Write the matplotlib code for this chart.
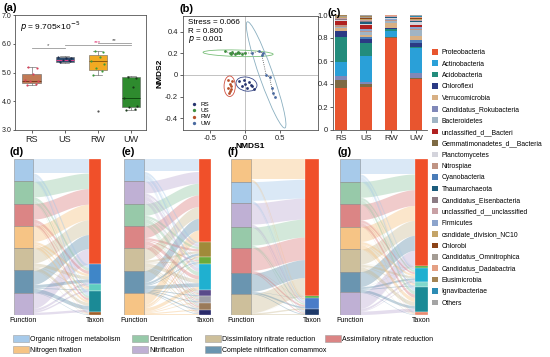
import matplotlib
matplotlib.use("Agg")
import matplotlib.pyplot as plt
from matplotlib.patches import Ellipse, Patch
import numpy as np

plt.rcParams["font.family"] = ["Liberation Sans", "DejaVu Sans"]
plt.rcParams["axes.unicode_minus"] = False

W, H = 550, 357


def px(x0, y0, x1, y1):
    """pixel box (top-left origin) -> figure rect"""
    return [x0 / W, 1 - y1 / H, (x1 - x0) / W, (y1 - y0) / H]


# ── (a) boxplot data ─────────────────────────────────────────────────────────
groups = ["RS", "US", "RW", "UW"]
box_q1 = [4.62, 5.35, 5.10, 3.80]
box_med = [4.72, 5.45, 5.40, 4.10]
box_q3 = [4.95, 5.55, 5.60, 4.85]
box_lo = [4.55, 5.33, 4.92, 3.70]
box_hi = [5.20, 5.57, 5.75, 4.87]
box_out = [[], [], [3.65], []]
pts_RS = [4.55, 4.60, 4.70, 4.72, 4.75, 4.95, 5.15, 5.20]
pts_US = [5.38, 5.42, 5.45, 5.50, 5.55, 5.52, 5.40]
pts_RW = [4.92, 5.05, 5.15, 5.30, 5.40, 5.55, 5.70, 5.75]
pts_UW = [3.70, 3.72, 3.80, 3.85, 4.10, 4.50, 4.80, 4.85]
sig_pairs = [(1, 2), (2, 4), (3, 4)]
sig_y = [5.85, 5.95, 6.03]
sig_txt = ["*", "***", "**"]

# ── (b) NMDS data ────────────────────────────────────────────────────────────
rs_x = [-0.08, -0.05, 0.00, 0.03, 0.06, 0.10, 0.12, -0.02, 0.08]
rs_y = [-0.06, -0.10, -0.08, -0.12, -0.07, -0.10, -0.13, -0.05, -0.09]
us_x = [-0.28, -0.22, -0.18, -0.15, -0.12, -0.08, -0.05, 0.00, -0.20, -0.10]
us_y = [0.22, 0.20, 0.21, 0.19, 0.20, 0.20, 0.19, 0.20, 0.19, 0.21]
rw_x = [-0.25, -0.22, -0.20, -0.24, -0.21, -0.19, -0.23, -0.20]
rw_y = [-0.05, -0.08, -0.10, -0.12, -0.15, -0.06, -0.17, -0.13]
uw_x = [0.10, 0.20, 0.25, 0.24, 0.30, 0.35, 0.38, 0.40, 0.42]
uw_y = [0.20, 0.22, 0.20, 0.18, 0.00, -0.02, -0.12, -0.17, -0.20]
ell_cx = [0.02, -0.10, -0.22, 0.30]
ell_cy = [-0.085, 0.20, -0.105, 0.00]
ell_w = [0.30, 1.00, 0.16, 1.12]
ell_h = [0.13, 0.06, 0.19, 0.18]
ell_ang = [-5, -1, 0, -61]

# ── (c) phylum composition ──────────────────────────────────────────────────
taxa = ["Proteobacteria", "Actinobacteria", "Acidobacteria", "Chloroflexi",
        "Verrucomicrobia", "Candidatus_Rokubacteria", "Bacteroidetes",
        "unclassified_d__Bacteri", "Gemmatimonadetes_d__Bacteria", "Planctomycetes",
        "Nitrospiae", "Cyanobacteria", "Thaumarchaeota", "Candidatus_Eisenbacteria",
        "unclassified_d__unclassified", "Firmicutes", "csndidate_division_NC10",
        "Chlorobi", "Candidatus_Omnitrophica", "Candidatus_Dadabactria",
        "Elusimicrobia", "Ignavibacteriae", "Others"]
taxa_colors = ["#E8552F", "#2AA0D8", "#238C7C", "#2B3A84", "#D8B084", "#8088B8",
               "#A0B4C4", "#B02020", "#7D6A44", "#D4D4DC", "#C09484", "#4A7CB8",
               "#1C5C7C", "#8C7C84", "#C8A0A4", "#8CA4CC", "#C4A468", "#8C4418",
               "#A49C94", "#E4A084", "#A48454", "#2C8CB4", "#A4A4A4"]
comp_RS = [.367, .12, .22, .05, .02, .03, .015, .03, .07, .01, .01, .008, .005,
           .005, .01, .005, .005, .005, .003, .005, .003, .002, .002]
comp_US = [.37, .22, .12, .03, .02, .02, .02, .04, .03, .01, .015, .02, .01,
           .01, .01, .01, .01, .01, .005, .005, .005, .005, .005]
comp_RW = [.80, .05, .02, .005, .04, .005, .02, .005, .005, .01, .01, .005, .002,
           .003, .005, .003, .002, .002, .002, .002, .002, .002, .002]
comp_UW = [.44, .21, .01, .04, .04, .05, .05, .01, .01, .03, .01, .02, .005,
           .005, .01, .02, .005, .005, .005, .005, .005, .005, .01]
stack_order = [0, 8, 5, 1, 2, 3, 11, 4, 6, 10, 15, 7, 9, 12, 13, 14, 16, 17,
               18, 19, 20, 21, 22]

# ── (d)-(g) function -> taxon flows ─────────────────────────────────────────
func_names = ["Organic nitrogen metabolism", "Denitrification",
              "Dissimilatory nitrate reduction", "Assimilatory nitrate reduction",
              "Nitrogen fixation", "Nitrification", "Complete nitrification comammox"]
func_colors = ["#9EC5E8", "#8CC4A0", "#C8B890", "#D87878", "#F5BE78", "#B8A8D0",
               "#5A8AA8"]
ONM, DEN, DIS, ASS, NF, NIT, COM = range(7)

d_funcs = [ONM, DEN, ASS, NF, DIS, COM, NIT]
d_taxa = ["#F0502A", "#3F86C8", "#5FCDC0", "#1B8A96", "#A0602A"]
d_flows = [[.090, .020, .005, .025, .003],
           [.100, .020, .005, .015, .003],
           [.100, .020, .005, .015, .003],
           [.100, .015, .010, .015, .003],
           [.095, .020, .005, .020, .003],
           [.090, .020, .005, .025, .003],
           [.100, .015, .010, .015, .003]]

e_funcs = [ONM, NIT, DEN, ASS, DIS, COM, NF]
e_taxa = ["#F0502A", "#A08A3A", "#6AAA3A", "#1FB0D0", "#5A4A8A", "#A0A0A8",
          "#9A7A5A", "#2A2A6A"]
e_flows = [[.080, .015, .005, .025, .005, .005, .005, .003],
           [.075, .015, .005, .025, .006, .006, .007, .004],
           [.075, .015, .006, .025, .006, .006, .007, .003],
           [.075, .014, .006, .024, .006, .006, .008, .004],
           [.075, .014, .006, .024, .006, .006, .008, .004],
           [.075, .014, .006, .024, .006, .006, .008, .004],
           [.075, .013, .006, .023, .005, .005, .007, .008]]

f_funcs = [NF, ONM, NIT, DEN, ASS, COM, DIS]
f_taxa = ["#F0502A", "#4AAA3A", "#4A7CC8", "#1E3A6A"]
f_flows = [[.130, .002, .008, .005],
           [.120, .002, .010, .005],
           [.135, .002, .012, .006],
           [.115, .002, .010, .005],
           [.145, .002, .011, .006],
           [.115, .002, .010, .005],
           [.120, .001, .009, .005]]

g_funcs = [ONM, DEN, ASS, NF, DIS, COM, NIT]
g_taxa = ["#F0502A", "#4AAA3A", "#1FB0D0", "#7FD8CC", "#1B8A96", "#E88A70"]
g_flows = [[.095, .002, .013, .004, .026, .003],
           [.100, .001, .013, .004, .022, .003],
           [.100, .002, .013, .004, .021, .003],
           [.095, .001, .013, .005, .026, .003],
           [.095, .002, .013, .004, .026, .003],
           [.095, .001, .012, .005, .017, .003],
           [.100, .001, .013, .004, .022, .003]]

# ─────────────────────────────────────────────────────────────────────────────
fig = plt.figure(figsize=(5.5, 3.57), dpi=100)
fig.patch.set_facecolor("white")
SP = "#555555"


def frame(ax, spines=("left", "bottom", "top", "right")):
    for s in ax.spines:
        ax.spines[s].set_visible(s in spines)
        ax.spines[s].set_color(SP)
        ax.spines[s].set_linewidth(0.6)
    ax.tick_params(width=0.5, length=2, pad=1.5, colors="#222222")


# ── Panel (a) ────────────────────────────────────────────────────────────────
ax = fig.add_axes(px(15, 15, 146, 130))
frame(ax)
ax.tick_params(axis="y", pad=1, length=1.5)
box_fill = ["#C17A55", "#2E4E72", "#F2AA22", "#2E8B2E"]
med_col = ["#7A3A20", "#E0408A", "#8A5A10", "#0F4A0F"]
pt_col = ["#D9435B", "#1A2A4A", "#3A9A3A", "#1A3A1A"]
stats = [dict(q1=box_q1[i], med=box_med[i], q3=box_q3[i], whislo=box_lo[i],
              whishi=box_hi[i], fliers=box_out[i]) for i in range(4)]
bp = ax.bxp(stats, positions=[1, 2, 3, 4], widths=0.55, patch_artist=True,
            showcaps=True,
            whiskerprops=dict(color="#777777", lw=0.5),
            capprops=dict(color="#777777", lw=0.5),
            flierprops=dict(marker="o", ms=1.6, mfc="#555555", mec="none"))
for i, b in enumerate(bp["boxes"]):
    b.set_facecolor(box_fill[i])
    b.set_edgecolor("#666666")
    b.set_linewidth(0.4)
for i, m in enumerate(bp["medians"]):
    m.set_color(med_col[i])
    m.set_linewidth(0.7)
jit = [-0.15, 0.12, -0.05, 0.18, -0.2, 0.05, 0.15, -0.1]
for i, pts in enumerate([pts_RS, pts_US, pts_RW, pts_UW]):
    ax.scatter([i + 1 + jit[k] for k in range(len(pts))], pts, s=2.5,
               color=pt_col[i], zorder=4, lw=0)
for (g1, g2), yy, tt in zip(sig_pairs, sig_y, sig_txt):
    ax.plot([g1, g2], [yy, yy], color="#999999", lw=0.6)
    ax.text((g1 + g2) / 2, yy + 0.01, tt, ha="center", va="bottom", fontsize=4.5,
            color="#E0407A" if tt == "***" else "#555555")
ax.set_xlim(0.5, 4.45)
ax.set_ylim(3.0, 7.0)
ax.set_yticks([3, 4, 5, 6, 7])
ax.set_yticklabels(["3.0", "4.0", "5.0", "6.0", "7.0"], fontsize=5)
ax.set_xticks([1, 2, 3, 4])
ax.set_xticklabels(groups, fontsize=6.5)
ax.text(0.04, 0.9, r"$p$ = 9.705×10$^{-5}$", transform=ax.transAxes, fontsize=6,
        va="center")

# ── Panel (b) ────────────────────────────────────────────────────────────────
ax = fig.add_axes(px(183, 16, 318, 130))
frame(ax)
ax.axhline(0, color="#AAAAAA", lw=0.5, zorder=0)
ax.axvline(0, color="#AAAAAA", lw=0.5, zorder=0)
ell_col = ["#3A4A8A", "#7ABF7A", "#D05040", "#8AAFC0"]
for i in range(4):
    ax.add_patch(Ellipse((ell_cx[i], ell_cy[i]), ell_w[i], ell_h[i], angle=ell_ang[i],
                         fill=False, ec=ell_col[i], lw=0.6))
grp_col = ["#26336E", "#3E8E3E", "#B8502A", "#4A6AA0"]
ax.plot(us_x + uw_x[:4], us_y + uw_y[:4], ":", color="#444444", lw=0.5)
ax.plot(uw_x[1:], uw_y[1:], ":", color="#444444", lw=0.6)
for xs, ys, c, lab in zip([rs_x, us_x, rw_x, uw_x], [rs_y, us_y, rw_y, uw_y],
                          grp_col, groups):
    ax.scatter(xs, ys, s=4, color=c, lw=0, label=lab, zorder=3)
ax.set_xlim(-0.886, 1.04)
ax.set_ylim(-0.51, 0.545)
ax.set_xticks([-0.5, 0, 0.5])
ax.set_xticklabels(["-0.5", "0", "0.5"], fontsize=5.5)
ax.set_yticks([-0.4, -0.2, 0, 0.2, 0.4])
ax.set_yticklabels(["-0.4", "-0.2", "0", "0.2", "0.4"], fontsize=5.5)
ax.set_xlabel("NMDS1", fontsize=6, fontweight="bold", labelpad=1)
ax.set_ylabel("NMDS2", fontsize=6, fontweight="bold", labelpad=1)
ax.text(0.04, 0.94, "Stress = 0.066", transform=ax.transAxes, fontsize=5.8, va="center")
ax.text(0.04, 0.865, "R = 0.800", transform=ax.transAxes, fontsize=5.8, va="center")
ax.text(0.04, 0.79, r"$p$ = 0.001", transform=ax.transAxes, fontsize=5.8, va="center")
ax.legend(loc="lower left", fontsize=4.5, frameon=False, handletextpad=0.1,
          labelspacing=0.15, borderaxespad=0.3, markerscale=1.2)

# ── Panel (c) ────────────────────────────────────────────────────────────────
ax = fig.add_axes(px(333, 15, 427, 130))
frame(ax, ("left", "bottom"))
comps = [comp_RS, comp_US, comp_RW, comp_UW]
bottoms = np.zeros(4)
for k in stack_order:
    vals = np.array([c[k] for c in comps])
    ax.bar([1, 2, 3, 4], vals, bottom=bottoms, width=0.5, color=taxa_colors[k], lw=0)
    bottoms += vals
ax.set_xlim(0.68, 4.44)
ax.set_ylim(0, 1.0)
ax.set_yticks([0, 0.2, 0.4, 0.6, 0.8, 1.0])
ax.set_yticklabels(["0", "0.2", "0.4", "0.6", "0.8", "1.0"], fontsize=5.5)
ax.set_xticks([1, 2, 3, 4])
ax.set_xticklabels(groups, fontsize=6)
handles = [Patch(facecolor=c, edgecolor="none") for c in taxa_colors]
fig.legend(handles, taxa, loc="upper left", bbox_to_anchor=(432 / W, 1 - 49 / H),
           frameon=False, fontsize=4.9, handlelength=0.9, handleheight=0.9,
           handletextpad=0.5, labelspacing=0.62, borderpad=0, borderaxespad=0)


# ── Panels (d)-(g): alluvial flows ───────────────────────────────────────────
def sankey(ax, funcs, tcols, flows, fx1, tx0):
    f = np.array(flows, float)
    f = f / f.sum()
    nf, nt = f.shape
    frow = f.sum(1)
    tcol = f.sum(0)
    ftop = np.concatenate([[0], np.cumsum(frow)[:-1]])
    ttop = np.concatenate([[0], np.cumsum(tcol)[:-1]])
    f_off = ftop.copy()
    t_off = ttop.copy()
    t = np.linspace(0, 1, 60)
    s = 3 * t ** 2 - 2 * t ** 3
    x = fx1 + (tx0 - fx1) * t
    src = np.zeros_like(f)
    for i in range(nf):
        for j in range(nt):
            src[i, j] = f_off[i]
            f_off[i] += f[i, j]
    for j in range(nt):
        for i in range(nf):
            y0 = src[i, j]
            y1 = t_off[j]
            t_off[j] += f[i, j]
            top = y0 + (y1 - y0) * s
            ax.fill_between(x, top, top + f[i, j], color=func_colors[funcs[i]],
                            alpha=0.38, lw=0)
    for i in range(nf):
        ax.bar(fx1 / 2, frow[i], bottom=ftop[i], width=fx1,
               color=func_colors[funcs[i]], alpha=0.9, edgecolor="#8A8A8A", lw=0.4)
    for j in range(nt):
        ax.bar((tx0 + 1) / 2, tcol[j], bottom=ttop[j], width=1 - tx0,
               color=tcols[j], lw=0.2, edgecolor="white")
    ax.set_xlim(0, 1)
    ax.set_ylim(1, 0)
    ax.axis("off")
    ax.text(fx1 / 2, 1.015, "Function", ha="center", va="top", fontsize=5)
    ax.text((tx0 + 1) / 2, 1.015, "Taxon", ha="center", va="top", fontsize=5)


sank = [(14, 101, 33, 89, d_funcs, d_taxa, d_flows),
        (124, 211, 144, 199, e_funcs, e_taxa, e_flows),
        (231, 319, 251, 305, f_funcs, f_taxa, f_flows),
        (340, 428, 360, 415, g_funcs, g_taxa, g_flows)]
for x0, x1, fr, tl, fn, tc, fl in sank:
    ax = fig.add_axes(px(x0, 159, x1, 315))
    w = x1 - x0
    sankey(ax, fn, tc, fl, (fr - x0) / w, (tl - x0) / w)

# function legend: four columns, each anchored where the reference puts it
leg_cols = [([ONM, NF], 13), ([DEN, NIT], 132), ([DIS, COM], 205), ([ASS], 325)]
for items, xl in leg_cols:
    fh = [Patch(facecolor=func_colors[i], edgecolor="#999999", lw=0.4, alpha=0.9)
          for i in items]
    fig.legend(fh, [func_names[i] for i in items], ncol=1, loc="upper left",
               bbox_to_anchor=(xl / W, 1 - 335 / H), frameon=False, fontsize=5,
               handlelength=2.3, handleheight=1.1, handletextpad=0.2,
               labelspacing=0.5, borderpad=0, borderaxespad=0)

# ── panel letters ───────────────────────────────────────────────────────────
for lab, x, y in [("(a)", 4, 8), ("(b)", 180, 9), ("(c)", 327, 13), ("(d)", 9, 152),
                  ("(e)", 121, 152), ("(f)", 228, 152), ("(g)", 338, 152)]:
    fig.text(x / W, 1 - y / H, lab, fontsize=8, fontweight="bold", va="center")

fig.savefig("out.png", dpi=100, facecolor="white")
